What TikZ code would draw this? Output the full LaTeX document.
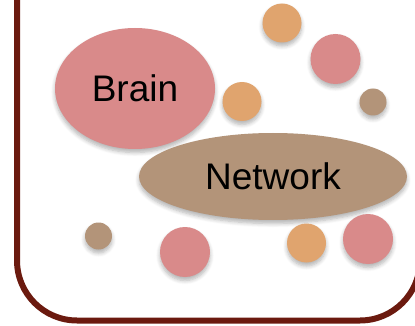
\documentclass[tikz,border=0pt]{standalone}
\usepackage{fontspec}
\setmainfont{Liberation Sans}
\usetikzlibrary{shapes.geometric,shadows.blur}
\definecolor{pinkc}{HTML}{D98A8A}
\definecolor{orangec}{HTML}{E0A46E}
\definecolor{brownc}{HTML}{B39479}
\definecolor{framec}{HTML}{6B1A0F}
\tikzset{
  soft/.style={blur shadow={shadow xshift=0pt, shadow yshift=-3.5pt, shadow blur steps=6, shadow opacity=30, shadow blur radius=4pt}},
  blob/.style={circle, draw=none, inner sep=0pt, minimum size=#1, soft},
  bigblob/.style={ellipse, draw=none, inner sep=0pt, soft, font=\fontsize{37}{37}\selectfont},
  frame/.style={draw=framec, line width=6pt, rounded corners=60pt}
}
\begin{document}
\begin{tikzpicture}[x=1pt,y=-1pt]
\useasboundingbox (0,0) rectangle (415,326);
\begin{scope}
\clip (0,0) rectangle (415,326);
\coordinate (ftl) at (17,-20);
\coordinate (fbl) at (17,320.5);
\coordinate (fbr) at (420,320.5);
\coordinate (ftr) at (420,-20);
\draw[frame] (ftl) -- (fbl) -- (fbr) -- (ftr);

\node[bigblob, fill=pinkc, minimum width=160pt, minimum height=121pt] (brain) at (135,88.5) {Brain};
\node[bigblob, fill=brownc, minimum width=268pt, minimum height=87pt] (network) at (273,176.5) {Network};

\node[blob=39pt, fill=orangec] (o1) at (282,23) {};
\node[blob=50pt, fill=pinkc] (p1) at (335.5,59) {};
\node[blob=39pt, fill=orangec] (o2) at (242,101.5) {};
\node[blob=27pt, fill=brownc] (b1) at (373,102) {};
\node[blob=27pt, fill=brownc] (b2) at (98.5,236) {};
\node[blob=50pt, fill=pinkc] (p2) at (185,252) {};
\node[blob=39pt, fill=orangec] (o3) at (306.5,243) {};
\node[blob=50pt, fill=pinkc] (p3) at (368,239) {};
\end{scope}
\end{tikzpicture}
\end{document}
